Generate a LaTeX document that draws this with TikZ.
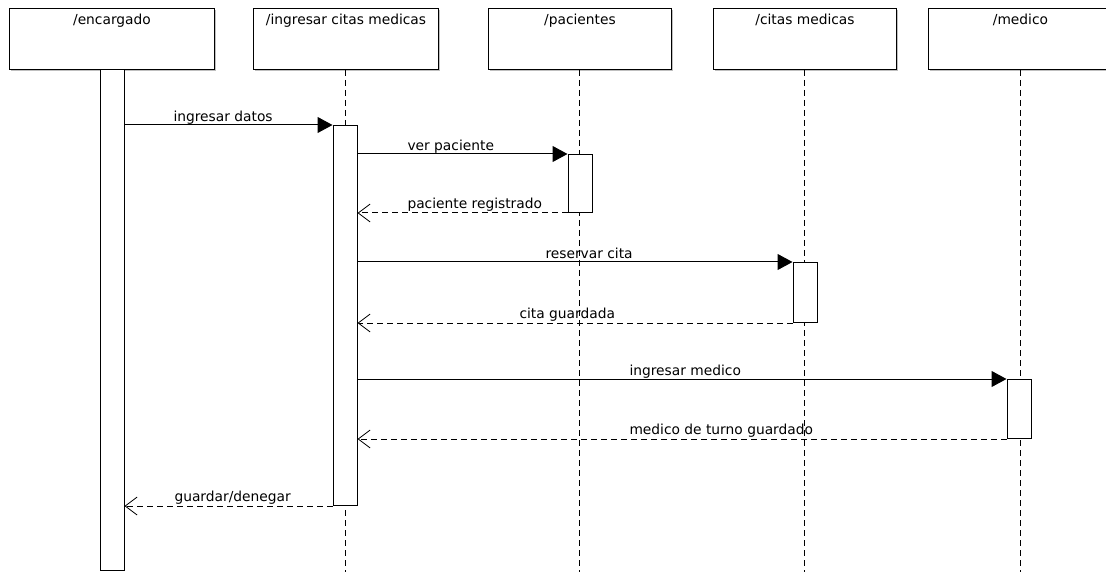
\documentclass[tikz,border=0pt]{standalone}
\usepackage{fontspec}
\setmainfont{DejaVu Sans}
\usetikzlibrary{arrows.meta,calc}
\begin{document}
\begin{tikzpicture}[x=1pt,y=-1pt,
  line width=1pt,
  every node/.style={font=\fontsize{13.8}{16}\selectfont, inner sep=0pt},
  header/.style={draw, fill=white, minimum height=61, anchor=north west},
  lifeline/.style={dash pattern=on 6pt off 4pt, line width=1pt},
  act/.style={draw, fill=white, minimum width=24, anchor=north, inner sep=0pt},
  call/.style={-{Triangle[length=15pt,width=16pt]}},
  reply/.style={dash pattern=on 6pt off 4pt, -{Straight Barb[length=12pt,width=18pt,line width=0.8pt]}},
  msglabel/.style={anchor=base west},
  shadow/.style={draw=black!25, line width=1.2pt}
]
\useasboundingbox (0,0) rectangle (1106,572);
\clip (0,0) rectangle (1106,572);

% ---- lifeline heads (with a light drop shadow)
\foreach \l/\r in {9/214, 253/438, 488/671, 713/896, 928/1112}{
  \draw[shadow] (\l+2,70) -- (\r+1.5,70) -- (\r+1.5,10);
}
\node[header, minimum width=205] (hE) at (9,8) {};
\node[header, minimum width=185] (hI) at (253,8) {};
\node[header, minimum width=183] (hP) at (488,8) {};
\node[header, minimum width=183] (hC) at (713,8) {};
\node[header, minimum width=184] (hM) at (928,8) {};

\node[anchor=base] (tE) at ($(hE.north)+(0,17)$) {/encargado};
\node[anchor=base] (tI) at ($(hI.north)+(0,17)$) {/ingresar citas medicas};
\node[anchor=base] (tP) at ($(hP.north)+(0,17)$) {/pacientes};
\node[anchor=base] (tC) at ($(hC.north)+(0,17)$) {/citas medicas};
\node[anchor=base] (tM) at ($(hM.north)+(0,17)$) {/medico};

% ---- dashed lifelines
\coordinate (endI) at (345,572);
\coordinate (endP) at (579,572);
\coordinate (endC) at (804,572);
\coordinate (endM) at (1020,572);
\draw[lifeline] (hI.south -| endI) -- (endI);
\draw[lifeline] (hP.south -| endP) -- (endP);
\draw[lifeline] (hC.south -| endC) -- (endC);
\draw[lifeline] (hM.south -| endM) -- (endM);

% ---- activation bars
\node[act, minimum height=501] (actE) at (112,69) {};
\node[act, minimum height=380] (actI) at (345,125) {};
\node[act, minimum height=58]  (actP) at (580,154) {};
\node[act, minimum height=60]  (actC) at (805,262) {};
\node[act, minimum height=59]  (actM) at (1019,379) {};

% ---- messages
\draw[call] (actE.east |- actI.north) -- (actI.north west);
\node[msglabel] (m1) at (173,121.5) {ingresar datos};

\draw[call] (actI.east |- actP.north) -- (actP.north west);
\node[msglabel] (m2) at (407,150.5) {ver paciente};

\draw[reply] (actP.south west) -- (actI.east |- actP.south);
\node[msglabel] (m3) at (407,208.5) {paciente registrado};

\draw[call] (actI.east |- actC.north) -- (actC.north west);
\node[msglabel] (m4) at (545,258.5) {reservar cita};

\draw[reply] (actC.south west) -- (actI.east |- actC.south);
\node[msglabel] (m5) at (519,318.5) {cita guardada};

\draw[call] (actI.east |- actM.north) -- (actM.north west);
\node[msglabel] (m6) at (629,375.5) {ingresar medico};

\draw[reply] (actM.south west) -- (actI.east |- actM.south);
\node[msglabel] (m7) at (629,434.5) {medico de turno guardado};

\draw[reply] (actI.south west) -- (actE.east |- actI.south);
\node[msglabel] (m8) at (174,501.5) {guardar/denegar};
\end{tikzpicture}
\end{document}
